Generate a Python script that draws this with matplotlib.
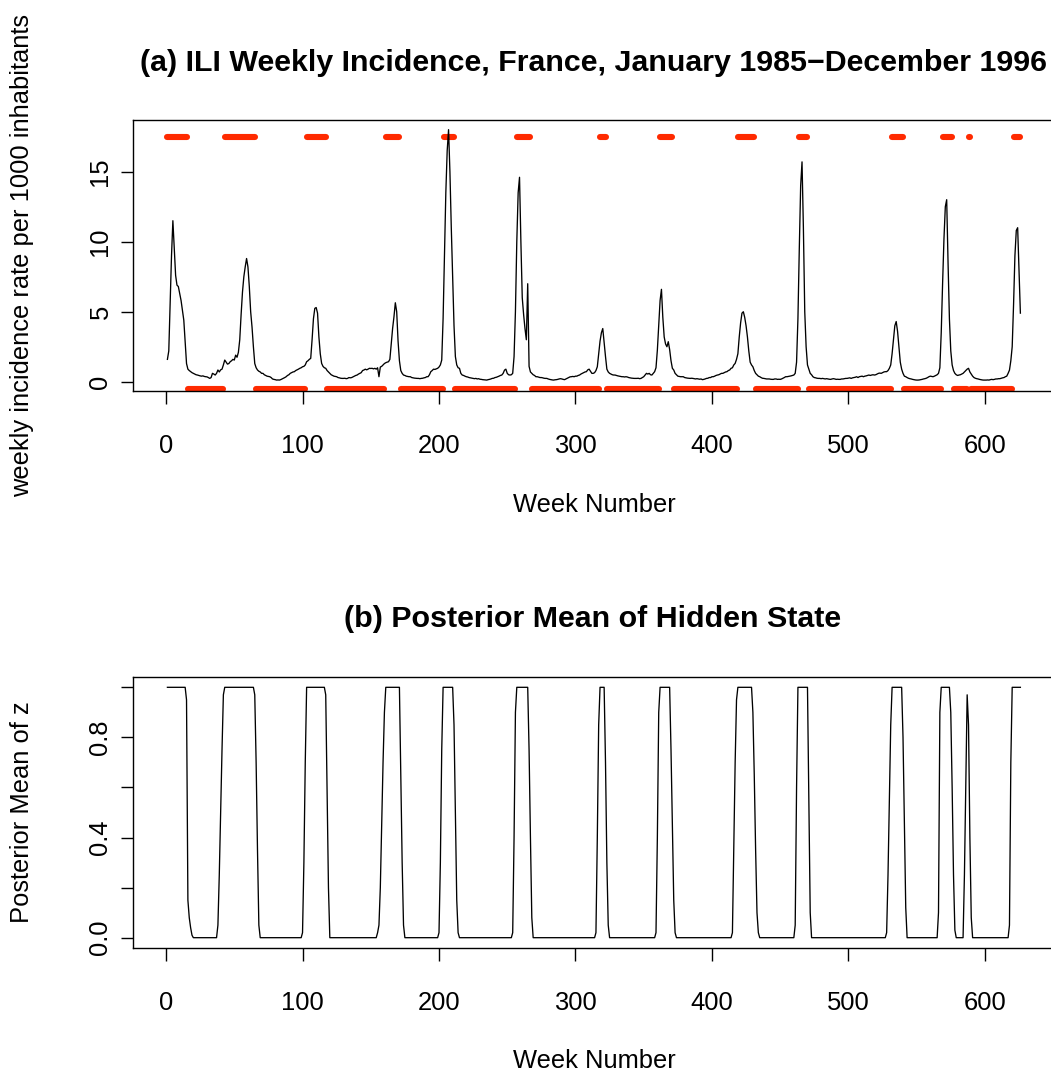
import matplotlib
matplotlib.use("Agg")
import matplotlib.pyplot as plt
import numpy as np

# ---------------- data ----------------
ili = [
    1.6, 2.2, 5.5, 9.0, 11.5, 9.6, 7.6, 6.9, 6.8, 6.3,
    5.8, 5.1, 4.4, 2.9, 1.3, 0.9, 0.8, 0.72, 0.65, 0.6,
    0.55, 0.5, 0.48, 0.45, 0.42, 0.4, 0.42, 0.38, 0.36, 0.35,
    0.3, 0.24, 0.3, 0.6, 0.55, 0.48, 0.6, 0.84, 0.7, 0.85,
    0.9, 1.2, 1.55, 1.4, 1.26, 1.3, 1.43, 1.5, 1.6, 1.55,
    1.9, 1.75, 2.1, 3.0, 4.8, 6.4, 7.5, 8.2, 8.8, 8.2,
    6.8, 5.0, 3.9, 2.5, 1.3, 1.0, 0.84, 0.75, 0.7, 0.6,
    0.6, 0.5, 0.45, 0.4, 0.38, 0.36, 0.3, 0.2, 0.17, 0.15,
    0.12, 0.13, 0.12, 0.15, 0.2, 0.25, 0.3, 0.36, 0.45, 0.5,
    0.6, 0.65, 0.7, 0.72, 0.8, 0.85, 0.9, 0.96, 1.0, 1.07,
    1.1, 1.2, 1.43, 1.5, 1.6, 1.67, 3.0, 4.5, 5.24, 5.3,
    4.9, 3.2, 2.0, 1.31, 1.1, 1.0, 0.96, 0.8, 0.7, 0.6,
    0.5, 0.45, 0.4, 0.38, 0.36, 0.3, 0.28, 0.25, 0.24, 0.24,
    0.25, 0.22, 0.24, 0.3, 0.28, 0.3, 0.35, 0.4, 0.45, 0.48,
    0.55, 0.6, 0.65, 0.8, 0.84, 0.9, 0.85, 0.9, 0.96, 0.95,
    0.96, 0.92, 0.96, 0.9, 1.0, 0.36, 1.05, 1.1, 1.2, 1.3,
    1.36, 1.4, 1.43, 1.6, 2.74, 3.8, 4.64, 5.64, 5.0, 2.9,
    1.5, 0.8, 0.6, 0.48, 0.45, 0.4, 0.38, 0.36, 0.36, 0.3,
    0.28, 0.26, 0.25, 0.24, 0.24, 0.22, 0.24, 0.25, 0.28, 0.3,
    0.36, 0.36, 0.5, 0.72, 0.8, 0.9, 0.88, 0.92, 0.96, 1.05,
    1.2, 1.55, 4.5, 9.0, 13.5, 16.5, 18.0, 15.0, 11.0, 7.5,
    4.0, 1.8, 1.2, 1.0, 0.96, 0.6, 0.48, 0.45, 0.4, 0.36,
    0.34, 0.3, 0.28, 0.26, 0.24, 0.22, 0.24, 0.2, 0.22, 0.18,
    0.17, 0.15, 0.14, 0.13, 0.12, 0.15, 0.17, 0.2, 0.24, 0.25,
    0.3, 0.32, 0.36, 0.4, 0.45, 0.48, 0.6, 0.83, 0.9, 0.6,
    0.5, 0.48, 0.5, 0.6, 1.8, 5.0, 10.0, 13.5, 14.6, 10.0,
    6.0, 4.8, 3.8, 3.0, 7.0, 1.1, 0.7, 0.6, 0.5, 0.45,
    0.36, 0.36, 0.33, 0.3, 0.3, 0.28, 0.25, 0.24, 0.24, 0.2,
    0.17, 0.15, 0.13, 0.12, 0.14, 0.15, 0.17, 0.2, 0.22, 0.2,
    0.17, 0.15, 0.2, 0.25, 0.3, 0.35, 0.36, 0.38, 0.36, 0.4,
    0.4, 0.45, 0.48, 0.55, 0.6, 0.65, 0.7, 0.72, 0.85, 0.9,
    0.75, 0.6, 0.6, 0.65, 0.8, 1.07, 2.0, 2.9, 3.5, 3.8,
    2.8, 1.8, 0.9, 0.7, 0.6, 0.55, 0.5, 0.48, 0.48, 0.45,
    0.42, 0.4, 0.38, 0.36, 0.36, 0.34, 0.36, 0.34, 0.3, 0.28,
    0.26, 0.25, 0.24, 0.24, 0.24, 0.25, 0.22, 0.24, 0.3, 0.36,
    0.48, 0.6, 0.55, 0.6, 0.5, 0.48, 0.6, 0.72, 1.0, 2.26,
    4.0, 5.8, 6.6, 4.6, 3.2, 2.7, 2.5, 2.86, 2.3, 1.5,
    0.96, 0.84, 0.6, 0.5, 0.4, 0.38, 0.36, 0.36, 0.36, 0.3,
    0.28, 0.26, 0.25, 0.24, 0.25, 0.24, 0.22, 0.2, 0.22, 0.2,
    0.18, 0.2, 0.15, 0.17, 0.2, 0.24, 0.25, 0.3, 0.3, 0.36,
    0.36, 0.4, 0.45, 0.48, 0.5, 0.55, 0.6, 0.6, 0.65, 0.7,
    0.72, 0.8, 0.84, 0.96, 1.0, 1.2, 1.31, 1.6, 2.0, 3.2,
    4.2, 4.9, 5.0, 4.6, 4.0, 3.2, 2.2, 1.4, 1.2, 1.07,
    0.8, 0.6, 0.5, 0.4, 0.36, 0.3, 0.25, 0.24, 0.22, 0.2,
    0.2, 0.2, 0.18, 0.17, 0.17, 0.2, 0.2, 0.17, 0.18, 0.17,
    0.2, 0.25, 0.3, 0.36, 0.36, 0.38, 0.4, 0.42, 0.45, 0.48,
    0.6, 1.4, 4.5, 9.5, 14.0, 15.7, 11.0, 5.0, 2.5, 1.2,
    0.9, 0.6, 0.5, 0.36, 0.3, 0.28, 0.25, 0.24, 0.24, 0.22,
    0.24, 0.22, 0.2, 0.22, 0.2, 0.18, 0.17, 0.2, 0.22, 0.2,
    0.17, 0.18, 0.17, 0.17, 0.2, 0.2, 0.22, 0.24, 0.24, 0.26,
    0.28, 0.24, 0.28, 0.3, 0.32, 0.36, 0.3, 0.36, 0.38, 0.4,
    0.36, 0.4, 0.42, 0.45, 0.48, 0.45, 0.48, 0.5, 0.48, 0.5,
    0.55, 0.6, 0.62, 0.6, 0.65, 0.7, 0.72, 0.72, 0.8, 0.96,
    1.2, 2.0, 3.0, 4.0, 4.3, 3.6, 2.5, 1.4, 0.9, 0.6,
    0.4, 0.36, 0.3, 0.25, 0.22, 0.2, 0.17, 0.15, 0.13, 0.12,
    0.12, 0.13, 0.15, 0.17, 0.2, 0.22, 0.25, 0.3, 0.36, 0.4,
    0.38, 0.36, 0.4, 0.45, 0.5, 0.6, 1.0, 3.5, 7.0, 10.2,
    12.5, 13.0, 8.5, 4.5, 2.2, 1.2, 0.8, 0.6, 0.5, 0.45,
    0.48, 0.5, 0.55, 0.6, 0.7, 0.8, 0.9, 0.96, 0.7, 0.55,
    0.4, 0.3, 0.25, 0.22, 0.2, 0.17, 0.15, 0.13, 0.12, 0.12,
    0.12, 0.13, 0.12, 0.15, 0.17, 0.15, 0.17, 0.2, 0.2, 0.22,
    0.22, 0.25, 0.28, 0.3, 0.36, 0.4, 0.6, 0.83, 1.5, 2.5,
    5.5, 9.0, 10.8, 11.0, 8.0, 4.9,
]

# epidemic weeks (red marks at top); all other weeks are marked at the bottom
epidemic_periods = [(1, 15), (43, 65), (103, 117), (161, 171), (204, 211),
                    (257, 267), (318, 322), (362, 371), (419, 431), (464, 470),
                    (532, 540), (569, 576), (588, 589), (621, 626)]

# posterior mean of hidden state, week by week (runs of constant values)
z_post = (
    [1.0] * 14 + [0.95, 0.15, 0.08, 0.04, 0.01] + [0.0] * 18 +
    [0.05, 0.25, 0.5, 0.75, 0.97] + [1.0] * 22 + [0.97, 0.7, 0.35, 0.05] + [0.0] * 31 +
    [0.02, 0.3, 0.7] + [1.0] * 14 + [0.97, 0.6, 0.2] + [0.0] * 35 +
    [0.02, 0.05, 0.2, 0.45, 0.7, 0.9] + [1.0] * 11 + [0.65, 0.3, 0.05] + [0.0] * 25 +
    [0.02, 0.3, 0.75] + [1.0] * 8 + [0.85, 0.5, 0.15, 0.02] + [0.0] * 39 +
    [0.02, 0.4, 0.9] + [1.0] * 9 + [0.75, 0.4, 0.08] + [0.0] * 46 +
    [0.02, 0.4, 0.85] + [1.0] * 4 + [0.7, 0.3, 0.05] + [0.0] * 34 +
    [0.02, 0.4, 0.9] + [1.0] * 8 + [0.75, 0.45, 0.15, 0.02] + [0.0] * 41 +
    [0.02, 0.35, 0.7, 0.95] + [1.0] * 11 + [0.9, 0.65, 0.35, 0.1, 0.02] + [0.0] * 26 +
    [0.05, 0.6] + [1.0] * 8 + [0.55, 0.1] + [0.0] * 55 +
    [0.02, 0.25, 0.55, 0.85] + [1.0] * 8 + [0.8, 0.45, 0.12] + [0.0] * 23 +
    [0.1, 0.9] + [1.0] * 7 + [0.9, 0.6, 0.25, 0.03] + [0.0] * 6 +
    [0.25, 0.6, 0.97, 0.85, 0.4, 0.08] + [0.0] * 27 +
    [0.05, 0.7] + [1.0] * 7
)

x_ticks = [0, 100, 200, 300, 400, 500, 600]
y1_ticks = [0, 5, 10, 15]
y2_ticks = [0.0, 0.2, 0.4, 0.6, 0.8, 1.0]
y2_ticklabels = ["0.0", "", "0.4", "", "0.8", ""]

title_a = "(a) ILI Weekly Incidence, France, January 1985\u2212December 1996"
title_b = "(b) Posterior Mean of Hidden State"
xlabel = "Week Number"
ylabel_a = "weekly incidence rate per 1000 inhabitants"
ylabel_b = "Posterior Mean of z"

# ---------------- plotting ----------------
plt.rcParams['font.family'] = ['Liberation Sans', 'DejaVu Sans']
W, H = 1051, 1072
fig = plt.figure(figsize=(W / 100, H / 100), dpi=100)

weeks = np.arange(1, len(ili) + 1)
weeks_z = np.arange(1, len(z_post) + 1)
state = np.zeros(len(ili), dtype=bool)
for a, b in epidemic_periods:
    state[(weeks >= a) & (weeks <= b)] = True

def px_axes(left, top, right, bottom):
    return fig.add_axes([left / W, 1 - bottom / H, (right - left) / W, (bottom - top) / H])

FS = 18.4
red = '#ff2a00'

ax1 = px_axes(133.3, 120, 1054.5, 391)
top_marks = np.where(state, 17.5, np.nan)
bot_marks = np.where(~state, -0.5, np.nan)
ax1.plot(weeks, top_marks, color=red, lw=4.4, solid_capstyle='round', solid_joinstyle='round')
ax1.plot(weeks, bot_marks, color=red, lw=4.4, solid_capstyle='round', solid_joinstyle='round')
ax1.plot(weeks, ili, color='black', lw=0.95)
ax1.set_xlim(-24, 651)
ax1.set_ylim(-0.66, 18.69)

ax2 = px_axes(133.3, 677.3, 1054.5, 947.7)
ax2.plot(weeks_z, z_post, color='black', lw=0.95)
ax2.set_xlim(-24, 651)
ax2.set_ylim(-0.04, 1.04)

for ax, yt in ((ax1, y1_ticks), (ax2, y2_ticks)):
    ax.set_xticks(x_ticks)
    ax.set_yticks(yt)
    ax.tick_params(direction='out', length=9, width=1, labelsize=FS, colors='black')
    ax.tick_params(axis='x', pad=22)
    ax.tick_params(axis='y', pad=6)
    for s in ax.spines.values():
        s.set_linewidth(1.0)
    ax.set_xlabel(xlabel, fontsize=FS, labelpad=25)

ax1.set_yticklabels([str(v) for v in y1_ticks])
ax2.set_yticklabels(y2_ticklabels)
for lab in ax1.get_yticklabels() + ax2.get_yticklabels():
    lab.set_rotation(90)
    lab.set_va('center')

fig.text(22 / W, 1 - 255.5 / H, ylabel_a, rotation=90, ha='center', va='center', fontsize=FS)
fig.text(22 / W, 1 - 812 / H, ylabel_b, rotation=90, ha='center', va='center', fontsize=FS)

fig.text(593 / W, 1 - 71 / H, title_a, ha='center', va='baseline', fontsize=FS * 1.19, fontweight='bold')
fig.text(593 / W, 1 - 627 / H, title_b, ha='center', va='baseline', fontsize=FS * 1.19, fontweight='bold')

fig.savefig('out.png', dpi=100)
